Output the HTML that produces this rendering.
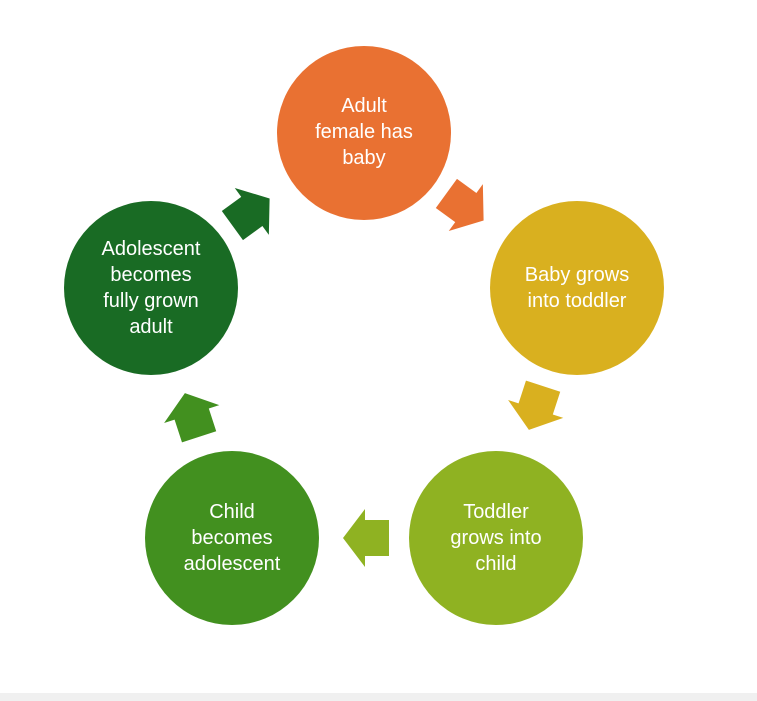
<!DOCTYPE html>
<html><head><style>
body{margin:0;width:757px;height:701px;background:#fff;overflow:hidden;position:relative}
svg{position:absolute;left:0;top:0}
text{font-family:"Liberation Sans",sans-serif;font-size:20px;fill:#fff;text-anchor:middle}
</style></head><body>
<svg width="757" height="701">
<defs><polygon id="a" points="-23,-18 1,-18 1,-29 23,0 1,29 1,18 -23,18"/></defs>
<rect x="0" y="693" width="757" height="8" fill="#f0f0f0"/>
<circle cx="364" cy="133" r="87" fill="#E97132"/>
<circle cx="577" cy="288" r="87" fill="#D9B01F"/>
<circle cx="496" cy="538" r="87" fill="#8FB222"/>
<circle cx="232" cy="538" r="87" fill="#42901F"/>
<circle cx="151" cy="288" r="87" fill="#196B24"/>
<use href="#a" fill="#E97132" transform="translate(465,207) rotate(36)"/>
<use href="#a" fill="#D9B01F" transform="translate(536,408) rotate(108)"/>
<use href="#a" fill="#8FB222" transform="translate(366,538) rotate(180)"/>
<use href="#a" fill="#42901F" transform="translate(192,415) rotate(252)"/>
<use href="#a" fill="#196B24" transform="translate(251,212) rotate(324)"/>
<text x="364" y="112">Adult</text><text x="364" y="138">female has</text><text x="364" y="164">baby</text>
<text x="577" y="281">Baby grows</text><text x="577" y="307">into toddler</text>
<text x="496" y="518">Toddler</text><text x="496" y="544">grows into</text><text x="496" y="570">child</text>
<text x="232" y="518">Child</text><text x="232" y="544">becomes</text><text x="232" y="570">adolescent</text>
<text x="151" y="255">Adolescent</text><text x="151" y="281">becomes</text><text x="151" y="307">fully grown</text><text x="151" y="333">adult</text>
</svg>
</body></html>
